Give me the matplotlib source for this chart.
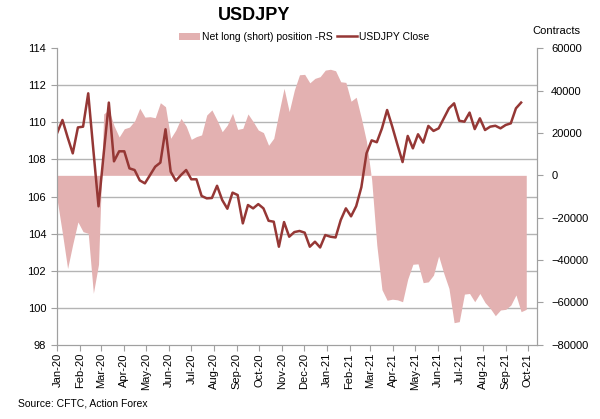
import numpy as np
import pandas as pd
import matplotlib
matplotlib.use("Agg")
import matplotlib.pyplot as plt
import matplotlib.dates as mdates

plt.rcParams['font.family'] = ['Liberation Sans', 'DejaVu Sans']

# weekly observations (CFTC report weeks)
start_date = "2020-01-01"

usdjpy_close = [
    109.45, 110.13, 109.20, 108.33, 109.73, 109.77, 111.57, 108.50, 105.47, 108.30,
    111.07, 107.90, 108.44, 108.44, 107.52, 107.43, 106.87, 106.71, 107.16, 107.61,
    107.83, 109.63, 107.34, 106.85, 107.16, 107.43, 106.93, 106.93, 106.03, 105.90,
    105.92, 106.58, 105.81, 105.34, 106.21, 106.08, 104.55, 105.54, 105.36, 105.59,
    105.36, 104.69, 104.64, 103.29, 104.62, 103.83, 104.08, 104.14, 104.05, 103.29,
    103.56, 103.25, 103.92, 103.83, 103.79, 104.73, 105.36, 104.93, 105.48, 106.50,
    108.33, 109.03, 108.93, 109.68, 110.67, 109.77, 108.80, 107.86, 109.27, 108.60,
    109.36, 108.91, 109.81, 109.54, 109.68, 110.22, 110.76, 111.03, 110.09, 110.04,
    110.53, 109.64, 110.22, 109.59, 109.77, 109.82, 109.68, 109.86, 109.95, 110.76,
    111.07,
]

net_position = [
    -12000, -27500, -44000, -32500, -22000, -26600, -27400, -55700, -42000, 29000,
    31000, 23500, 18100, 22000, 22800, 25700, 31700, 27500, 27700, 27200,
    34300, 32400, 17500, 21400, 26900, 23300, 17000, 18300, 19100, 28500,
    30900, 26100, 20600, 23800, 29300, 21700, 22200, 29000, 25400, 21400,
    20200, 14200, 17500, 29600, 41100, 30100, 40300, 47500, 47700, 43700,
    45800, 46600, 49700, 50100, 49400, 44200, 43900, 35000, 36900, 27000,
    16000, -2000, -33000, -54000, -59000, -58500, -58800, -59700, -49000, -42000,
    -41800, -50700, -50300, -47100, -38100, -46300, -53400, -69600, -69100, -56100,
    -55800, -59700, -55800, -60100, -62800, -66300, -63600, -63300, -61300, -56500,
    -64400, -63300,
]

left_ticks = np.arange(98, 115, 2)
right_ticks = np.arange(-80000, 60001, 20000)

fill_dates = pd.date_range(start_date, periods=len(net_position), freq="7D")
line_dates = fill_dates[:len(usdjpy_close)]

grid_col = "#b4b4b4"
axis_col = "#a0a0a0"

fig = plt.figure(figsize=(6.0, 4.19), dpi=100)
ax_fill = fig.add_axes([0.0955, 0.1773, 0.80, 0.7074])
ax_line = ax_fill.twinx()

# net positions (right scale), drawn under the price line
ax_fill.fill_between(fill_dates, 0, net_position, color="#e3b1b1", lw=0,
                     label="Net long (short) position -RS")
ax_fill.set_ylim(right_ticks[0], right_ticks[-1])
ax_fill.set_yticks(right_ticks)
ax_fill.yaxis.tick_right()

# horizontal grid follows the left scale
lo, hi = left_ticks[0], left_ticks[-1]
grid_pos = right_ticks[0] + (left_ticks - lo) / (hi - lo) * (right_ticks[-1] - right_ticks[0])
ax_fill.set_yticks(grid_pos, minor=True)
ax_fill.grid(which="minor", axis="y", color=grid_col, lw=1.0)
ax_fill.set_axisbelow(True)
ax_fill.tick_params(axis="y", which="minor", length=0)

ax_line.plot(line_dates, usdjpy_close, color="#953735", lw=1.8, label="USDJPY Close")
ax_line.set_ylim(lo, hi)
ax_line.set_yticks(left_ticks)
ax_line.yaxis.tick_left()

ax_fill.set_xlim(pd.Timestamp(start_date), pd.Timestamp("2021-10-14"))
ax_fill.xaxis.set_major_locator(mdates.MonthLocator())
ax_fill.xaxis.set_major_formatter(mdates.DateFormatter("%b-%y"))

for a in (ax_fill, ax_line):
    a.spines["top"].set_visible(False)
    for s in ("left", "right", "bottom"):
        a.spines[s].set_color(axis_col)
    a.tick_params(which="major", colors=axis_col, labelcolor="black",
                  labelsize=8, length=4, width=0.8, direction="out")
ax_fill.tick_params(axis="x", rotation=90, pad=2)
ax_fill.tick_params(axis="y", pad=6)
ax_line.tick_params(axis="y", pad=4)

# title, legend and notes
fig.text(0.423, 0.962, "USDJPY", ha="center", va="center",
         fontsize=13, fontweight="bold")
h1, l1 = ax_fill.get_legend_handles_labels()
h2, l2 = ax_line.get_legend_handles_labels()
fig.legend(h1 + h2, l1 + l2, loc="center", bbox_to_anchor=(0.507, 0.912),
           ncol=2, frameon=False, fontsize=7.5, handlelength=2.0,
           handletextpad=0.15, columnspacing=0.4)
fig.text(0.967, 0.925, "Contracts", ha="right", va="center", fontsize=8)
fig.text(0.03, 0.038, "Source: CFTC, Action Forex", ha="left", va="center",
         fontsize=7.5)

fig.savefig("out.png", dpi=100)
